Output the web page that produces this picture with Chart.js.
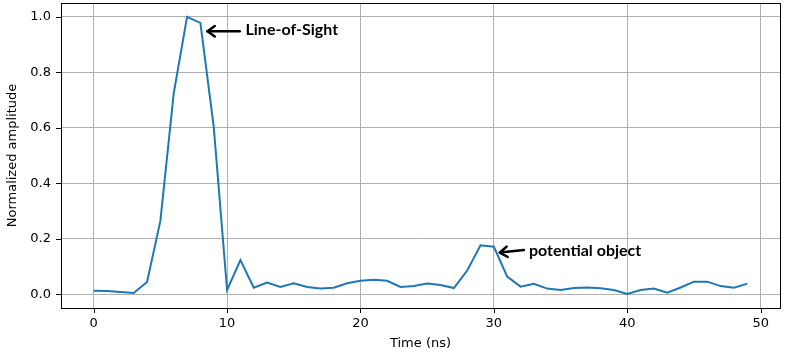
<!DOCTYPE html>
<html><head><meta charset="utf-8">
<script src="https://cdn.jsdelivr.net/npm/chart.js@4.4.1/dist/chart.umd.min.js"></script>
<style>html,body{margin:0;padding:0;background:#fff}#wrap{width:790px;height:361px}</style>
</head><body><div id="wrap"><canvas id="c"></canvas></div>
<script>
const timeNs = [0,1,2,3,4,5,6,7,8,9,10,11,12,13,14,15,16,17,18,19,20,21,22,23,24,25,26,27,28,29,30,31,32,33,34,35,36,37,38,39,40,41,42,43,44,45,46,47,48,49];
const amplitude = [0.012,0.011,0.008,0.004,0.044,0.264,0.724,1.0,0.978,0.603,
  0.015,0.123,0.023,0.042,0.026,0.039,0.026,0.020,0.023,0.039,
  0.048,0.052,0.048,0.026,0.029,0.038,0.033,0.022,0.085,0.176,
  0.171,0.063,0.027,0.037,0.020,0.015,0.022,0.024,0.021,0.015,
  0.001,0.015,0.020,0.005,0.024,0.045,0.045,0.029,0.023,0.038];
const xTickValues = [0,10,20,30,40,50];
const yTickValues = [0,0.2,0.4,0.6,0.8,1.0];
const annotationLabels = ['Line-of-Sight','potential object'];
const arrowTips = [[8.53,0.948],[30.45,0.150]];
const arrowTails = [[10.95,0.948],[32.25,0.159]];
const labelAnchors = [[11.38,0.954],[32.63,0.155]];

const extras = {
  id:'extras',
  afterDraw(chart){
    const ctx = chart.ctx, a = chart.chartArea;
    const xs = chart.scales.x, ys = chart.scales.y;
    ctx.save();
    ctx.strokeStyle = '#000'; ctx.lineWidth = 1;
    ctx.beginPath();
    xTickValues.forEach(v=>{const px=Math.round(xs.getPixelForValue(v))+0.5; ctx.moveTo(px,a.bottom); ctx.lineTo(px,a.bottom+5);});
    yTickValues.forEach(v=>{const py=Math.round(ys.getPixelForValue(v))+0.5; ctx.moveTo(a.left,py); ctx.lineTo(a.left-5,py);});
    ctx.stroke();
    ctx.strokeRect(Math.round(a.left)+0.5, Math.round(a.top)+0.5, Math.round(a.right-a.left), Math.round(a.bottom-a.top));
    ctx.lineWidth = 2.5; ctx.lineCap='round'; ctx.lineJoin='round';
    for (let i=0;i<annotationLabels.length;i++){
      const tx=xs.getPixelForValue(arrowTips[i][0]), ty=ys.getPixelForValue(arrowTips[i][1]);
      const sx=xs.getPixelForValue(arrowTails[i][0]), sy=ys.getPixelForValue(arrowTails[i][1]);
      const ang=Math.atan2(ty-sy,tx-sx);
      ctx.beginPath(); ctx.moveTo(sx,sy); ctx.lineTo(tx,ty); ctx.stroke();
      const hl=9, hw=0.62;
      ctx.beginPath();
      ctx.moveTo(tx-hl*Math.cos(ang-hw), ty-hl*Math.sin(ang-hw));
      ctx.lineTo(tx,ty);
      ctx.lineTo(tx-hl*Math.cos(ang+hw), ty-hl*Math.sin(ang+hw));
      ctx.stroke();
      ctx.fillStyle='#000'; ctx.font='bold 16px Lato'; ctx.textBaseline='middle'; ctx.textAlign='left';
      ctx.fillText(annotationLabels[i], xs.getPixelForValue(labelAnchors[i][0]), ys.getPixelForValue(labelAnchors[i][1]));
    }
    ctx.restore();
  }
};

new Chart(document.getElementById('c'), {
  type:'line',
  data:{datasets:[{data: timeNs.map((t,i)=>({x:t,y:amplitude[i]})), borderColor:'#1f77b4', borderWidth:2, pointRadius:0, tension:0, fill:false}]},
  options:{
    responsive:true, maintainAspectRatio:false, animation:false,
    layout:{padding:{top:3,right:10,bottom:0,left:0}},
    plugins:{legend:{display:false}, tooltip:{enabled:false}},
    scales:{
      x:{type:'linear', min:-2.45, max:51.45,
        afterBuildTicks(s){s.ticks = xTickValues.map(v=>({value:v}));},
        afterFit(s){s.height = 53; s.paddingLeft = 0; s.paddingRight = 0;},
        ticks:{color:'#000', font:{family:'DejaVu Sans', size:13}, padding:8, maxRotation:0, callback:v=>String(v)},
        grid:{color:'#b0b0b0', lineWidth:1, drawTicks:false},
        border:{display:false},
        title:{display:true, text:'Time (ns)', color:'#000', font:{family:'DejaVu Sans', size:13}, padding:{top:0,bottom:10}}
      },
      y:{type:'linear', min:-0.05, max:1.05,
        afterBuildTicks(s){s.ticks = yTickValues.map(v=>({value:v}));},
        afterFit(s){s.width = 61; s.paddingTop = 0; s.paddingBottom = 0;},
        ticks:{color:'#000', font:{family:'DejaVu Sans', size:13}, padding:10, callback:v=>v.toFixed(1)},
        grid:{color:'#b0b0b0', lineWidth:1, drawTicks:false},
        border:{display:false},
        title:{display:true, text:'Normalized amplitude', color:'#000', font:{family:'DejaVu Sans', size:13}, padding:{top:5,bottom:0}}
      }
    }
  },
  plugins:[extras]
});
</script></body></html>
